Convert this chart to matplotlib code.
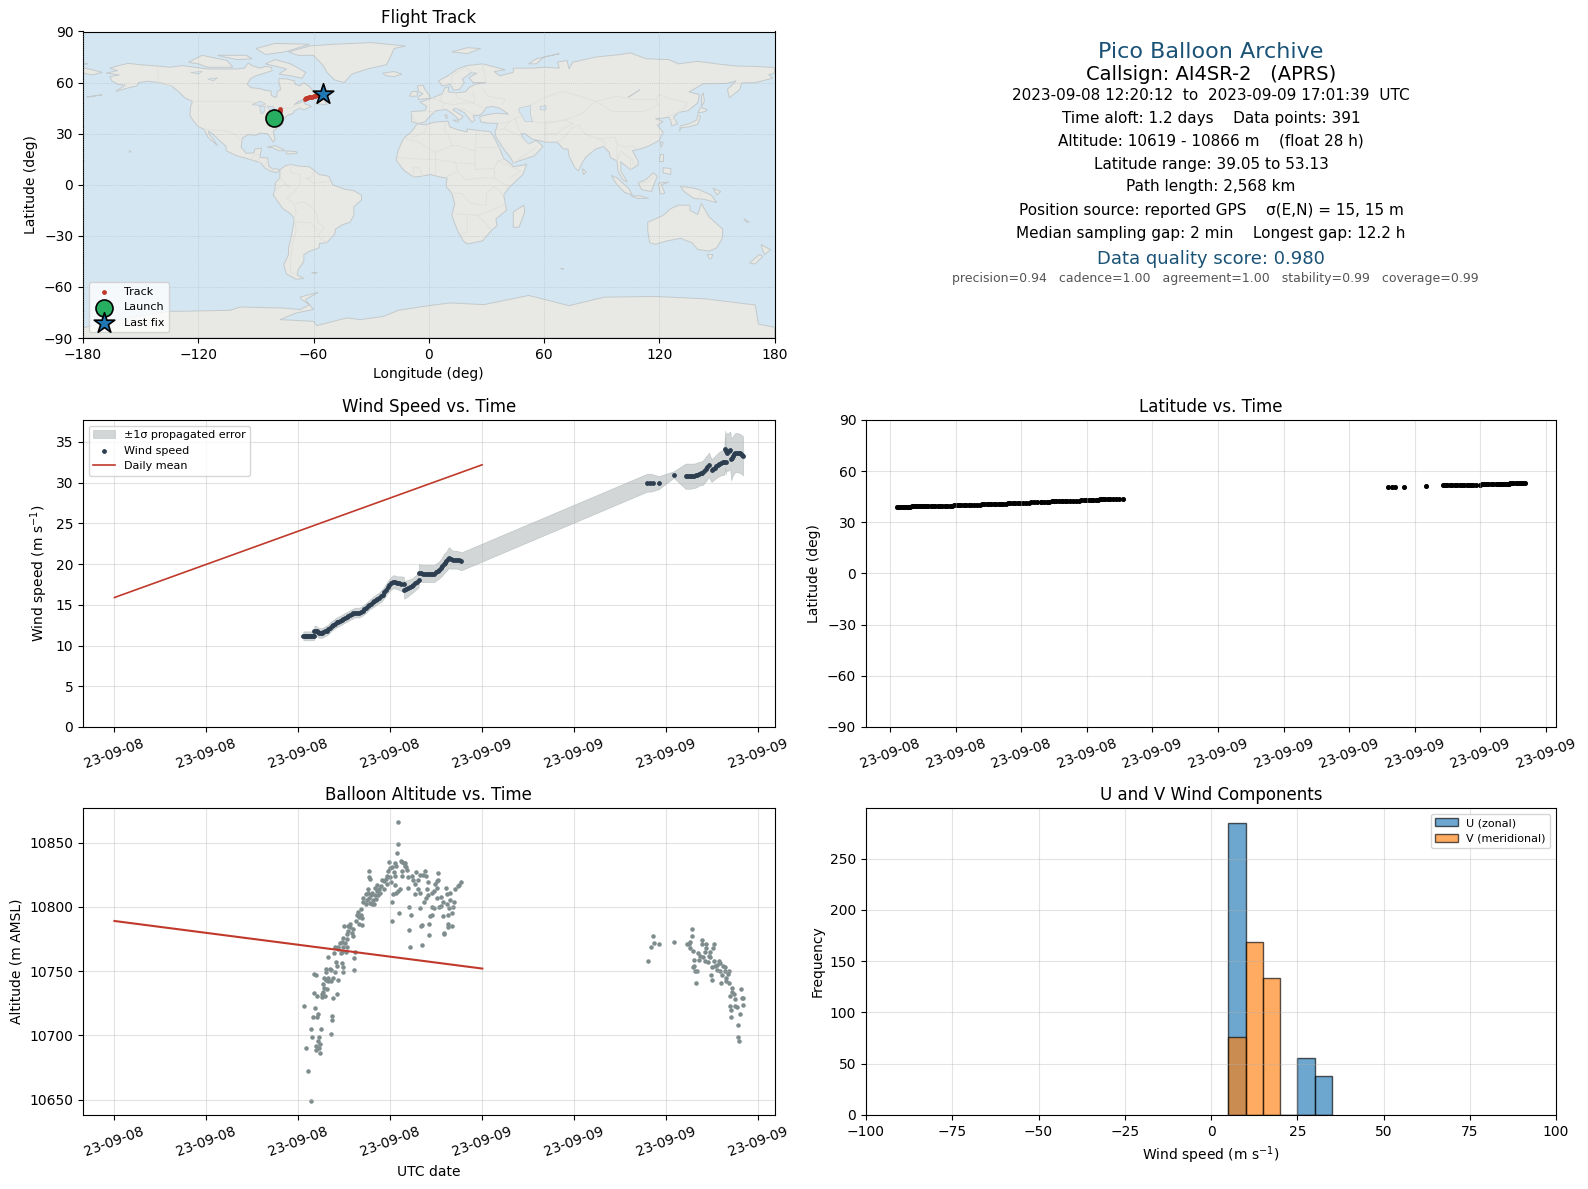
#All imports
import numpy as np
import pandas as pd
import matplotlib
matplotlib.use("Agg")
import matplotlib.pyplot as plt
import matplotlib.dates as mdates
from matplotlib.patches import Polygon

#Hours after 2023-09-08 00:00 UTC, one entry per fix
wind_hours = [12.33, 12.42, 12.5, 12.59, 12.67, 12.76, 12.84, 12.93, 13.02, 13.05,
              13.13, 13.2, 13.28, 13.37, 13.46, 13.54, 13.64, 13.74, 13.85, 13.96,
              14.06, 14.17, 14.28, 14.39, 14.5, 14.61, 14.72, 14.83, 14.94, 15.04,
              15.15, 15.26, 15.37, 15.48, 15.59, 15.7, 15.84, 15.98, 16.09, 16.2,
              16.3, 16.41, 16.52, 16.63, 16.74, 16.85, 16.96, 17.07, 17.17, 17.28,
              17.39, 17.5, 17.61, 17.72, 17.83, 17.93, 18.06, 18.2, 18.33, 18.46,
              18.59, 18.72, 18.89, 18.91, 19.04, 19.17, 19.28, 19.39, 19.5, 19.61,
              19.73, 19.85, 19.87, 19.99, 20.11, 20.24, 20.37, 20.5, 20.63, 20.75,
              20.87, 20.98, 21.09, 21.2, 21.3, 21.4, 21.5, 21.58, 21.67, 21.75,
              21.83, 21.95, 22.07, 22.2, 22.33, 22.49, 22.65,
              34.77, 34.94, 35.12, 35.52, 36.5,
              37.28, 37.39, 37.5, 37.61, 37.72, 37.83, 37.94, 38.05, 38.16, 38.27,
              38.38, 38.48, 38.58, 38.69, 38.8, 38.97, 39.07, 39.17, 39.27, 39.37,
              39.48, 39.59, 39.7, 39.8, 39.85, 39.9, 39.93, 40.0, 40.1, 40.19,
              40.25, 40.3, 40.36, 40.44, 40.52, 40.63, 40.74, 40.82, 40.9, 40.97, 41.03]
wind_speed = [11.2, 11.2, 11.2, 11.2, 11.2, 11.2, 11.2, 11.2, 11.2, 11.85,
              11.85, 11.75, 11.65, 11.55, 11.55, 11.55, 11.65, 11.75, 11.85, 12.0,
              12.2, 12.4, 12.55, 12.7, 12.85, 12.95, 13.05, 13.15, 13.3, 13.4,
              13.5, 13.6, 13.75, 13.85, 13.95, 14.05, 14.05, 14.05, 14.15, 14.3,
              14.45, 14.6, 14.8, 15.0, 15.15, 15.3, 15.45, 15.6, 15.75, 15.85,
              16.05, 16.25, 16.55, 16.85, 17.15, 17.4, 17.65, 17.85, 17.8, 17.7,
              17.65, 17.6, 17.5, 16.85, 16.95, 17.05, 17.2, 17.3, 17.45, 17.65,
              17.85, 18.0, 18.95, 18.9, 18.85, 18.85, 18.85, 18.85, 18.85, 18.85,
              18.85, 19.0, 19.15, 19.3, 19.5, 19.75, 20.05, 20.2, 20.35, 20.6,
              20.8, 20.65, 20.55, 20.55, 20.55, 20.45, 20.35,
              30.0, 30.0, 30.0, 30.0, 31.0,
              30.8, 30.8, 30.8, 30.8, 30.85, 30.85, 30.9, 31.0, 31.1, 31.15,
              31.2, 31.4, 31.65, 31.9, 32.2, 31.5, 31.65, 31.8, 32.0, 32.15,
              32.3, 32.4, 32.5, 32.55, 34.1, 32.6, 33.9, 33.7, 33.85, 34.0,
              32.9, 33.05, 33.25, 33.5, 33.7, 33.7, 33.65, 33.6, 33.5, 33.4, 33.3]
wind_err = [0.55, 0.55, 0.55, 0.55, 0.55, 0.55, 0.55, 0.55, 0.55, 0.6,
            0.6, 0.6, 0.6, 0.6, 0.6, 0.6, 0.6, 0.6, 0.6, 0.6,
            0.6, 0.6, 0.6, 0.6, 0.6, 0.6, 0.6, 0.6, 0.6, 0.6,
            0.6, 0.6, 0.6, 0.6, 0.6, 0.6, 0.6, 0.6, 0.6, 0.6,
            0.6, 0.6, 0.6, 0.6, 0.6, 0.65, 0.65, 0.65, 0.65, 0.65,
            0.7, 0.7, 0.7, 0.7, 0.75, 0.75, 0.8, 0.8, 0.8, 0.8,
            0.85, 0.9, 0.95, 1.1, 1.05, 1.0, 0.95, 0.9, 0.9, 0.9,
            0.9, 0.9, 1.05, 1.05, 1.05, 1.05, 1.05, 1.05, 1.05, 1.05,
            1.05, 1.05, 1.05, 1.05, 1.1, 1.15, 1.2, 1.2, 1.2, 1.25,
            1.3, 1.2, 1.1, 1.1, 1.1, 1.1, 1.1,
            1.1, 1.1, 1.05, 0.8, 0.4,
            1.55, 1.55, 1.55, 1.55, 1.5, 1.5, 1.5, 1.5, 1.45, 1.45,
            1.5, 1.5, 1.5, 1.5, 1.5, 1.4, 1.4, 1.4, 1.45, 1.45,
            1.5, 1.5, 1.55, 1.6, 2.3, 1.6, 2.3, 2.3, 2.3, 2.3,
            2.6, 2.5, 2.4, 2.4, 2.4, 2.4, 2.4, 2.4, 2.4, 2.4, 2.4]
latitude = [39.05, 39.1, 39.1, 39.1, 39.1, 39.1, 39.2, 39.2, 39.3, 39.3,
            39.3, 39.4, 39.4, 39.4, 39.4, 39.4, 39.4, 39.5, 39.5, 39.5,
            39.6, 39.6, 39.6, 39.7, 39.7, 39.8, 39.8, 39.8, 39.9, 39.9,
            39.9, 40.0, 40.0, 40.1, 40.1, 40.2, 40.2, 40.3, 40.4, 40.5,
            40.5, 40.6, 40.6, 40.7, 40.7, 40.7, 40.8, 40.9, 40.9, 41.0,
            41.1, 41.2, 41.2, 41.3, 41.3, 41.4, 41.4, 41.5, 41.6, 41.7,
            41.7, 41.8, 41.9, 41.9, 42.0, 42.1, 42.2, 42.3, 42.3, 42.4,
            42.4, 42.5, 42.5, 42.5, 42.6, 42.6, 42.7, 42.7, 42.8, 42.9,
            43.0, 43.0, 43.1, 43.1, 43.2, 43.3, 43.3, 43.4, 43.5, 43.5,
            43.5, 43.5, 43.5, 43.5, 43.6, 43.6, 43.6,
            50.6, 50.6, 50.6, 51.0, 51.1,
            51.6, 51.6, 51.7, 51.7, 51.7, 51.7, 51.7, 51.8, 51.8, 51.9,
            52.0, 52.0, 52.0, 52.1, 52.1, 52.1, 52.2, 52.2, 52.2, 52.2,
            52.3, 52.3, 52.4, 52.4, 52.5, 52.5, 52.5, 52.6, 52.6, 52.7,
            52.7, 52.7, 52.8, 52.8, 52.9, 52.9, 53.0, 53.0, 53.1, 53.1, 53.13]

alt_hours = [18.52, 18.52, 18.46, 17.93, 18.30, 18.35, 18.67, 18.78, 18.87, 18.98, 18.96, 19.02, 19.07,
             18.09, 17.98, 17.87, 18.24, 18.78, 18.74, 18.30, 16.63, 16.63, 16.70, 17.80, 17.70, 17.98,
             17.61, 17.76, 18.02, 17.43, 18.30, 17.15, 17.39, 17.57, 17.00, 17.26, 17.11, 16.57, 16.83,
             16.52, 17.33, 17.22, 17.00, 16.74, 16.41, 16.24, 16.61, 17.07, 16.89, 16.46, 16.24, 16.67,
             16.39, 16.96, 16.83, 16.09, 15.91, 15.80, 16.09, 15.96, 16.13, 15.74, 15.96, 16.17, 15.37,
             15.26, 15.00, 15.37, 15.59, 15.26, 15.52, 15.20, 15.59, 14.93, 15.15, 14.83, 15.04, 14.72,
             14.39, 14.61, 15.15, 14.93, 14.57, 14.83, 15.09, 14.35, 15.70, 15.65, 13.96, 14.78,
             18.20, 18.48, 18.63, 18.37, 18.13, 18.13, 18.59, 19.24, 19.37, 19.24, 19.30, 20.09, 20.54,
             20.54, 20.04, 20.00, 19.96, 19.17, 19.13, 19.43, 19.67, 19.91, 20.26, 20.15, 20.30, 21.13,
             19.78, 19.50, 19.61, 19.83, 19.61, 19.96, 20.48, 20.91, 21.13, 21.02, 20.37, 21.07, 21.61,
             20.33, 20.48, 20.70, 20.87, 20.22, 20.70, 20.87, 21.17, 21.02, 21.30, 21.46, 21.67, 21.83,
             21.28, 22.11, 21.89, 22.15, 21.67, 21.89, 22.22, 22.39, 22.59, 22.48, 20.70, 20.59, 21.46,
             21.74, 22.04, 21.74, 22.00, 21.78, 21.52, 21.52,
             15.65, 14.43, 14.54, 14.83, 14.93, 14.93, 13.04, 13.13, 13.83, 14.04, 14.11, 13.83, 14.41,
             14.28, 14.61, 13.70, 13.96, 13.78, 13.96, 14.11, 13.63, 13.70, 13.89, 13.63, 13.04, 13.57,
             13.24, 13.52, 13.74, 14.28, 14.54, 12.39, 13.09, 13.30, 12.98, 13.24, 14.17, 14.22, 14.15,
             12.83, 13.50, 12.91, 13.37, 13.30, 13.17, 13.43, 12.52, 13.17, 13.37, 13.43, 12.65, 12.80,
             35.12, 37.71, 37.71, 35.21, 35.52, 34.99, 34.79, 36.51, 37.32, 37.47, 37.58, 37.54, 37.76,
             38.35, 38.31, 38.62, 38.57, 39.12, 39.08, 38.53, 38.86, 38.09, 38.20, 38.42, 38.79, 38.86,
             38.15, 37.82, 38.53, 38.75, 39.12, 39.47, 39.52, 39.30, 39.19, 39.01, 39.69, 39.82, 39.34,
             39.52, 39.85, 40.07, 40.02, 39.63, 37.76, 37.82, 37.87, 37.98, 38.95, 39.91, 37.96, 39.01,
             39.54, 39.87, 40.07, 40.29, 40.86, 40.29, 40.44, 40.13, 40.95, 41.01, 40.51, 40.13, 40.48,
             40.62, 41.00, 40.20, 40.79, 40.20, 40.66, 40.66, 40.73]
alt_m = [10866, 10849, 10842, 10835, 10834, 10832, 10836, 10835, 10834, 10834, 10832, 10831, 10829,
         10831, 10830, 10828, 10827, 10828, 10824, 10824, 10828, 10823, 10822, 10824, 10822, 10823,
         10820, 10818, 10819, 10821, 10817, 10817, 10816, 10814, 10815, 10814, 10812, 10814, 10811,
         10811, 10811, 10809, 10809, 10809, 10810, 10807, 10807, 10806, 10805, 10805, 10804, 10803,
         10802, 10802, 10802, 10798, 10796, 10794, 10794, 10792, 10791, 10789, 10787, 10786, 10787,
         10785, 10785, 10784, 10783, 10781, 10780, 10779, 10777, 10776, 10775, 10773, 10772, 10772,
         10769, 10769, 10769, 10769, 10767, 10765, 10765, 10764, 10765, 10760, 10761, 10764,
         10810, 10812, 10814, 10811, 10804, 10789, 10795, 10800, 10794, 10782, 10769, 10770, 10778,
         10787, 10786, 10785, 10799, 10815, 10823, 10824, 10827, 10825, 10828, 10825, 10824, 10826,
         10821, 10821, 10818, 10814, 10810, 10811, 10819, 10818, 10821, 10820, 10814, 10815, 10815,
         10807, 10809, 10811, 10812, 10804, 10800, 10799, 10800, 10807, 10808, 10804, 10802, 10799,
         10801, 10800, 10805, 10804, 10810, 10811, 10814, 10816, 10819, 10817, 10794, 10793, 10793,
         10794, 10795, 10787, 10785, 10784, 10780, 10779,
         10751, 10757, 10754, 10756, 10753, 10749, 10748, 10747, 10752, 10752, 10751, 10749, 10749,
         10745, 10743, 10745, 10745, 10743, 10742, 10742, 10740, 10737, 10736, 10734, 10733, 10732,
         10731, 10730, 10731, 10729, 10732, 10723, 10721, 10717, 10714, 10714, 10715, 10712, 10701,
         10705, 10705, 10699, 10699, 10696, 10692, 10693, 10690, 10689, 10690, 10686, 10672, 10649,
         10777, 10783, 10777, 10772, 10771, 10769, 10758, 10773, 10771, 10771, 10773, 10768, 10766,
         10774, 10771, 10771, 10768, 10771, 10768, 10765, 10765, 10764, 10762, 10761, 10762, 10761,
         10759, 10759, 10758, 10757, 10758, 10758, 10756, 10755, 10754, 10753, 10754, 10753, 10751,
         10750, 10750, 10750, 10748, 10747, 10753, 10754, 10750, 10750, 10747, 10745, 10741, 10743,
         10741, 10742, 10741, 10737, 10736, 10734, 10732, 10731, 10729, 10729, 10728, 10723, 10723,
         10722, 10724, 10720, 10717, 10714, 10708, 10699, 10696]

#Daily means
daily_dates = ["2023-09-08", "2023-09-09"]
daily_wind = [15.9, 32.2]
daily_alt = [10789, 10752]

#Histogram counts per 5 m/s bin
hist_edges = [5, 10, 15, 20, 25, 30, 35]
u_counts = [285, 0, 0, 0, 56, 38]
v_counts = [76, 169, 134, 0, 0, 0]

#Ground track
track_lon = [-80.8, -80.2, -79.8, -79.3, -78.9, -78.5, -78.2, -77.9, -77.7, -77.5,
             -64.5, -64, -63.5, -62.5, -62, -61, -60, -59, -58, -57, -56, -55]
track_lat = [39.05, 39.6, 40.1, 40.7, 41.2, 41.8, 42.4, 43, 43.5, 44.3,
             50.6, 51, 51.1, 51.6, 51.7, 51.8, 52, 52.2, 52.5, 52.7, 53, 53.13]
launch = (-80.8, 39.05)
last_fix = (-55, 53.13)

#Land outlines, lon/lat
north_america = [(-168,65.6),(-164,66.5),(-162,67),(-166,68.5),(-163,69.5),(-156.5,71.3),(-150,70.5),(-141,69.7),
    (-135,69),(-128,70),(-125,69.5),(-115,68),(-108,68),(-100,68),(-96,68.5),(-94,71.5),(-92,70),(-88,68.5),(-85,69.5),
    (-82,69),(-81.5,67),(-87,65),(-90,64),(-93,62),(-94.5,59),(-92.5,57),(-88,56.5),(-85,55.5),(-82,55),(-82,52.5),
    (-80,51.3),(-79,52),(-79,54.5),(-77,56),(-77.5,58),(-78,60),(-78,62.3),(-74,62.2),(-70,61),(-69.5,59),(-67,58.2),
    (-65,60),(-62,57.5),(-60,55),(-56,52.5),(-60,50.2),(-65,50.2),(-68,49),(-70,47),(-65,49),(-64.5,47.5),(-61,46),
    (-65,44),(-66,44.5),(-67,45),(-70,43.5),(-70.5,42),(-74,40.5),(-75.5,38),(-76,35.5),(-78,34),(-81,31.5),(-80,26.5),
    (-81,25),(-82.7,28),(-84,30),(-88,30.3),(-90,29),(-94,29.5),(-97,27.5),(-97.7,22),(-95,18.5),(-91,18.7),(-90.5,21),
    (-87,21.5),(-88,16),(-84,15.8),(-83.3,11),(-81,9),(-79.5,9.5),(-77.5,8.6),(-78.5,7.5),(-80,7.3),(-83,8.3),(-85.5,10),
    (-87.5,13),(-92,14.5),(-96,15.8),(-100,17),(-105.5,20),(-105.5,22.5),(-109,26),(-112.5,30),(-114.7,31.5),(-114.5,30),
    (-112,26.5),(-110,23),(-112,25),(-115,28),(-117,32.5),(-120.5,34.5),(-122.5,37.5),(-124.3,40.5),(-124,46),(-123,49),
    (-127,51),(-130,54.5),(-134,58),(-140,60),(-146,60.8),(-151,60),(-152,58),(-156,57),(-163,54.8),(-158,58.5),(-162,59),
    (-165,61),(-166,63.5),(-161,64.5)]
south_america = [(-77.5,8.6),(-75,11),(-72,12),(-68,11),(-62,10.5),(-57,6),(-52,5),(-50,0),(-44,-2.5),(-39,-3.5),(-35,-6),
    (-35,-9),(-39,-13),(-39,-18),(-41,-22),(-45,-23.5),(-48.5,-26),(-49,-29),(-53,-34),(-57,-34.5),(-57,-37),(-62,-39),
    (-65,-41),(-65,-45),(-68,-50),(-68.5,-53),(-65,-55),(-69,-55.5),(-74,-52.5),(-75.5,-47),(-73,-41),(-73,-37),(-71.5,-30),
    (-70,-20),(-72,-17),(-76,-14),(-81,-6),(-80,-2.5),(-80,1),(-77.5,4),(-77.5,7)]
africa = [(-6,35.8),(-2,35.2),(3,36.8),(10,37.3),(11,34),(15,32.3),(20,31),(20,32.8),(25,32),(32,31.2),(34,28),(37,21),
    (39,15.5),(43,12),(44,10.5),(51,12),(49,6),(42,-1.5),(39,-6),(40.5,-15),(35,-20),(35.5,-24),(32.5,-27),(28,-33),
    (20,-34.8),(18,-33),(15,-27),(12,-18),(13.5,-11),(12,-5),(9,-1),(9.5,4),(6,4.5),(1,6),(-4,5),(-8,4.5),(-13,8.5),
    (-17,14.5),(-16,20),(-13,27.5),(-9.5,30.5)]
eurasia = [(-9,37),(-9,43),(-2,43.5),(-1,46),(-4.5,48.5),(2,51),(7,53.5),(8.5,57),(10.5,57.5),(10,54.5),(14,54),(19,54.5),
    (21,57),(24,59),(30,60),(23,60),(21,63),(25,65.5),(22,65.8),(17.5,62),(18.5,60),(16,56),(13,55.5),(11,59),(7,58),(5,61),
    (10,64),(15,68),(20,70),(28,71),(40,67.5),(34,66.5),(37,64),(44,66),(44,68.5),(54,68.5),(60,69),(68,68.5),(67,72),(72,73),
    (73,68),(75,72),(81,73.5),(87,75),(100,76.5),(105,77.5),(113,74),(125,73.5),(130,71),(140,72.5),(150,71),(160,69.7),
    (170,69.5),(178,69),(180,68.7),(180,65.5),(177,64.7),(179,62.5),(170,60),(163,59.8),(162,56),(156.5,51),(155.5,56),
    (160,61),(155,59.5),(143,59.3),(135.5,54.5),(141,53),(140,48),(135,43.5),(130,42.5),(127.5,39.7),(129.5,36),(126.5,34.5),
    (126,37.5),(125,39.7),(121,39),(118,39),(122,37),(119,35),(122,31),(120,26),(114,22.5),(110,21),(106,20),(109,14),
    (109,11.5),(105,8.8),(100,13.5),(100,8),(103.5,1.5),(101,3),(98.5,8),(98,14),(94.5,16),(94,19),(91,22.5),(87,21),
    (82,16.5),(80,13),(78,8.2),(76,10),(73,17),(72.5,21),(70,21),(67,25),(61,25),(57,26),(54,26.7),(50,30),(48,30),(50,26),
    (52,24),(56,26),(59.5,22.5),(55,17),(44,12.8),(42.5,16),(39,21),(35,28),(34.5,31),(36,36),(30,36.3),(27,37),(26.5,40),
    (30,41),(35,42),(41.5,41.5),(37,45),(33,46),(30,45.5),(28,42),(26,40.7),(23,40.5),(24,38),(22.5,36.7),(19.5,41),(19,42),
    (14,45),(12.5,44),(18,40),(16,38),(12,42),(9,44.3),(3.5,43.3),(0,39.5),(-2,36.8),(-5.5,36)]
chukotka = [(-180,68.7),(-175,67.5),(-170,66),(-175,64.5),(-180,65.5)]
greenland = [(-73,78),(-68,76),(-60,76),(-55,70),(-53,66),(-49,61.5),(-44,60),(-40,65),(-32,68),(-22,70.5),(-20,75),(-18,80),
    (-12,81.5),(-30,83.5),(-50,82.5),(-62,81.5)]
antarctica = [(-180,-84),(-165,-80),(-150,-77),(-135,-74.3),(-128,-74.3),(-103.5,-73.7),(-98,-71.8),(-76,-72.4),(-67,-73.3),
    (-62,-70.4),(-66,-67.5),(-67,-66),(-57.4,-63.1),(-64.3,-67.5),(-60,-73.3),(-69,-75.3),(-77.4,-79.2),(-60,-80.2),
    (-58.3,-82.7),(-49.6,-80.2),(-42.6,-78.2),(-35.6,-79.2),(-23.5,-77.3),(-15.7,-73.7),(0,-71),(11,-69.4),(28.7,-70.4),
    (52,-65),(73,-71),(91.5,-66),(118,-65.6),(144,-67),(170,-70.6),(171.6,-81.8),(180,-83.7),(180,-90),(-180,-90)]
australia = [(114,-22),(122,-18),(126,-14),(130,-12),(136,-12),(136,-15),(140,-17.5),(142,-11),(146,-19),(153,-26),(153,-31),
    (150,-37),(146,-39),(140,-38),(137,-34),(131,-31.5),(124,-33),(118,-35),(115,-34),(114,-27)]
islands = [
    [(-125,72),(-118,76),(-105,73),(-102,69),(-115,69),(-120,71)],
    [(-80,73.5),(-72,71),(-64,66),(-66,62.5),(-72,64),(-78,65),(-74,68),(-85,71)],
    [(-90,80),(-80,83),(-62,82.5),(-75,78),(-85,76.5)],
    [(-110,76),(-95,76),(-92,74),(-100,73.5)],
    [(-59,47.5),(-53,47),(-55.5,51.5)],
    [(-84,22),(-80,23),(-74.5,20),(-78,20),(-82,22)],
    [(-74,19.8),(-69,19.5),(-68.5,18.5),(-74,18)],
    [(-24,65.5),(-18,66.5),(-14,65),(-18,63.5),(-22,64)],
    [(-5.5,50),(1,51),(0,53),(-2,56),(-3,58.5),(-6,58),(-5,54.5),(-3,53.5),(-5,52)],
    [(-10,52),(-6,52),(-6,55),(-9,54.5)],
    [(12,78),(20,80.5),(27,80),(20,77)],
    [(52,71),(56,74),(68,77),(60,75),(56,71)],
    [(9,39),(9.7,39),(9.5,41),(8.4,41)],
    [(12.5,38),(15.5,38),(15,36.7)],
    [(44,-16),(49.5,-12),(50,-16),(47,-25),(44,-25)],
    [(80,9.5),(82,7.5),(80.5,6)],
    [(130.5,31.5),(131.5,33.5),(135.5,34),(140,35.5),(141.5,40),(140,41),(139.5,38),(136,36),(131,34.5)],
    [(140,42),(144,43),(145,44),(141.5,45.5)],
    [(142,46),(143.5,49),(143,54),(142,52)],
    [(95,5.5),(98,4),(104,-2),(106,-6),(102,-4.5),(98,0)],
    [(105,-6.5),(110,-6.5),(114.5,-8),(109,-8)],
    [(109,1),(113,3),(117,7),(119,5),(117.5,1),(116,-4),(111,-3)],
    [(119.5,1),(125,1.5),(121,0),(123,-5),(120.5,-5.5)],
    [(131,-1),(138,-2),(141,-3),(147,-6),(150,-10.5),(143,-8.5),(138,-8),(133,-4)],
    [(120.5,18),(122,18),(122,14),(120,14)],
    [(122,10),(126,9.5),(126,6),(122,7)],
    [(120.5,25),(122,25),(121,22)],
    [(145,-41),(148,-41),(147,-43.5),(146,-43.5)],
    [(173,-35),(176,-37),(178,-38),(175,-41),(174,-39)],
    [(172,-41),(174,-42),(170,-46.5),(167,-46),(170,-43)],
    [(-175,52),(-170,52.8),(-178,51.5)],
    [(-156,20),(-155,19.5),(-155.7,19)],
    [(-61,-51.5),(-58,-51.5),(-59,-52.3)],
    [(68.5,-49),(70,-49),(70,-49.6)],
    [(164,-20),(167,-22),(165.5,-22)],
    [(-180,71.2),(-177.5,71),(-180,70.8)],
    [(148,-2),(152,-4),(150,-6)],
]
#Water on top of land
lakes = [
    [(-92,47),(-88,49),(-85,47.5),(-87,46.5)],
    [(-88,46),(-85,46),(-86,42),(-87.5,42)],
    [(-84,46),(-81,46),(-80,44.5),(-82.5,43.5)],
    [(-83,42),(-79,43),(-79,42.7),(-82,41.5)],
    [(-79.5,43.5),(-76,44),(-76.5,43.3)],
    [(47,45),(53,46.5),(53,41),(54,37),(50,37.3),(49,40),(47,43)],
    [(58,46),(61,46.5),(61,44),(58,44)],
    [(103.7,51.5),(105,52),(110,56),(109,55)],
    [(-115,62),(-110,62.8),(-112,61)],
    [(-124,66),(-118,66.5),(-120,65)],
]
#Country borders, just faint lines
borders = [
    [(-123,49),(-95,49),(-89,48),(-83,46),(-82.5,42),(-79,43),(-75,45),(-71,45),(-69,47.3),(-67,45)],
    [(-141,69.7),(-141,60),(-134,58)],
    [(-117,32.5),(-106,31.8),(-101,29.5),(-97.5,26)],
    [(-92,14.5),(-91,18),(-88.5,18)],[(-88,16),(-89,14),(-87.5,13)],[(-83.5,15),(-85,12),(-85.5,11)],
    [(-72,12),(-72,7),(-67,6),(-67,1),(-70,-4),(-74,-8),(-70,-11),(-69,-16),(-70,-20)],
    [(-60,8),(-61,4),(-64,4),(-60,1),(-52,2)],[(-80,-3),(-75,0),(-72,-2),(-77.5,4)],
    [(-69,-11),(-65,-10),(-60,-14),(-58,-18),(-58,-22),(-54,-25),(-58,-30),(-53,-34)],
    [(-69,-22),(-62,-22),(-58,-27)],[(-70,-20),(-69,-27),(-71,-35),(-72,-45),(-72,-52),(-68.5,-52)],
    [(-9,27.5),(-2,31),(-1,35)],[(-13,27.5),(-5,25),(3,19),(12,23),(15,23),(24,20),(25,32)],
    [(9,37),(8,32),(10,30),(12,23)],[(25,22),(37,22)],[(24,20),(24,9),(34,9.5),(36,14),(39,15)],
    [(-16,16),(-5,15),(3,15),(14,13),(15,8),(9,4.5)],[(3,19),(3,7)],[(-8,4.5),(-8,10),(-5,10),(-3,5)],
    [(14,13),(24,12)],[(15,8),(19,3),(27,4),(34,4),(42,-1.5)],[(34,9.5),(34,4)],[(36,14),(42,11),(48,8),(42,4)],
    [(12,-5),(17,-5),(22,-11),(30,-12),(30,-5),(34,-1),(39,-6)],[(13.5,-17),(25,-18),(33,-15),(40.5,-11)],
    [(20,-18),(20,-28),(17,-29)],[(25,-18),(29,-22),(32,-26)],
    [(-9,42),(-7,37)],[(-2,43.5),(3,42.5)],[(2,51),(6,49),(8,48),(7,44)],[(7,53.5),(6,50),(8,48)],
    [(8,48),(13,47),(17,48),(23,48),(28,45.5)],[(14,54),(15,51),(19,49.5),(23,48)],[(23,54.5),(24,50),(23,48)],
    [(28,56),(31,52),(40,50),(38,47)],[(28,70),(30,60)],[(23,66),(19,69),(12,64),(12,59)],
    [(14,45),(19,44),(22,42),(26,41)],[(37,36),(42,37),(45,39)],[(48,40),(45,39),(46,35),(48,30)],
    [(36,32),(39,33),(42,37)],[(39,33),(47,29),(52,24)],[(44,12.8),(52,19),(56,22)],
    [(61,25),(61,30),(61,37),(66,37),(71,38),(75,36)],[(61,30),(67,30),(70,33),(75,36)],[(67,25),(71,28),(74,33),(78,35)],
    [(54,37),(61,36),(66,37),(74,39),(80,42),(87,49)],[(50,45),(60,51),(70,55),(87,49),(98,52),(107,50),(118,50),(120,53),(127,50),(135,48),(131,43)],
    [(87,49),(96,43),(112,43),(120,47),(118,50)],
    [(78,35),(81,30),(88,27),(97,28),(98,24),(102,22),(106,23),(108,21.5)],[(88,27),(92,25),(91,22.5)],
    [(98,24),(98,14),(100,20),(102,18),(105,15),(105,8.8)],[(102,18),(106,15),(107,11)],
    [(124,40),(130,42.5)],[(126,38),(128.5,38.5)],[(141,-3),(141,-9)],[(117,4.5),(114,1.5),(110,1)],
]

#Text block
info_lines = ["2023-09-08 12:20:12  to  2023-09-09 17:01:39  UTC",
              "Time aloft: 1.2 days    Data points: 391",
              "Altitude: 10619 - 10866 m    (float 28 h)",
              "Latitude range: 39.05 to 53.13",
              "Path length: 2,568 km",
              "Position source: reported GPS    σ(E,N) = 15, 15 m",
              "Median sampling gap: 2 min    Longest gap: 12.2 h"]
info_y = [95.5, 118.5, 141.5, 164.5, 187, 210.5, 233.5]

W, H = 1588, 1189

def px_axes(fig, left, top, right, bottom):
    '''Make axes from pixel edges, top of the image is 0'''
    return fig.add_axes([left / W, 1 - bottom / H, (right - left) / W, (bottom - top) / H])

def to_times(hours):
    '''Turn hours after the start date into timestamps'''
    return pd.Timestamp("2023-09-08") + pd.to_timedelta(hours, unit="h")

def date_axis(ax, locator):
    ax.xaxis.set_major_locator(locator)
    ax.xaxis.set_major_formatter(mdates.DateFormatter("%y-%m-%d"))
    ax.tick_params(axis="x", rotation=20)

fig = plt.figure(figsize=(W / 100, H / 100), dpi=100)
t_wind = to_times(np.array(wind_hours))
t_alt = to_times(np.array(alt_hours))
t_daily = pd.to_datetime(daily_dates)
every6 = mdates.HourLocator(byhour=[0, 6, 12, 18])

#Map
ax = px_axes(fig, 83, 31.5, 774.5, 338)
ax.set_facecolor("#d4e6f1")
for shape in [north_america, south_america, africa, eurasia, chukotka, greenland, antarctica, australia] + islands:
    ax.add_patch(Polygon(shape, closed=True, facecolor="#e8e8e4", edgecolor="#c4cacc", linewidth=0.7, zorder=1))
for shape in lakes:
    ax.add_patch(Polygon(shape, closed=True, facecolor="#d4e6f1", edgecolor="#c4cacc", linewidth=0.5, zorder=1.2))
for line in borders:
    ax.plot([p[0] for p in line], [p[1] for p in line], color="#dfe0dc", linewidth=0.6, zorder=1.1)
ax.grid(True, color="#9aa5ab", linewidth=0.5, linestyle=":", alpha=0.6, zorder=2)
ax.set_axisbelow(False)
ax.scatter(track_lon, track_lat, s=6, color="#c0392b", label="Track", zorder=3)
ax.scatter(launch[0], launch[1], s=150, color="#27ae60", edgecolor="black", linewidth=1.2, label="Launch", zorder=4)
ax.scatter(last_fix[0], last_fix[1], s=240, marker="*", color="#1f77b4", edgecolor="black", linewidth=1.2, label="Last fix", zorder=5)
ax.set_xlim(-180, 180)
ax.set_ylim(-90, 90)
ax.set_xticks(np.arange(-180, 181, 60))
ax.set_yticks(np.arange(-90, 91, 30))
ax.set_xlabel("Longitude (deg)")
ax.set_ylabel("Latitude (deg)")
ax.set_title("Flight Track", fontsize=12)
ax.legend(loc="lower left", fontsize=8)

#Summary text
fig.text(1211 / W, 1 - 51.5 / H, "Pico Balloon Archive", fontsize=16, color="#1a5276", ha="center", va="center")
fig.text(1211 / W, 1 - 74.5 / H, "Callsign: AI4SR-2   (APRS)", fontsize=14, ha="center", va="center")
for line, y in zip(info_lines, info_y):
    fig.text(1211 / W, 1 - y / H, line, fontsize=11, ha="center", va="center")
fig.text(1211 / W, 1 - 258.5 / H, "Data quality score: 0.980", fontsize=13, color="#1a5276", ha="center", va="center")
fig.text(1215 / W, 1 - 279 / H, "precision=0.94   cadence=1.00   agreement=1.00   stability=0.99   coverage=0.99",
         fontsize=9, color="#555555", ha="center", va="center")

#Wind speed
ax = px_axes(fig, 83, 420, 774.5, 727)
speed = np.array(wind_speed)
err = np.array(wind_err)
ax.fill_between(t_wind, speed - err, speed + err, color="#7f8c8d", alpha=0.35, linewidth=0.5, label="±1σ propagated error")
ax.scatter(t_wind, speed, s=6, color="#2c3e50", label="Wind speed", zorder=3)
ax.plot(t_daily, daily_wind, color="#c0392b", linewidth=1.2, label="Daily mean")
ax.set_ylim(0, 37.7)
ax.set_ylabel("Wind speed (m s$^{-1}$)")
ax.set_title("Wind Speed vs. Time", fontsize=12)
ax.grid(True, alpha=0.35)
date_axis(ax, every6)
ax.legend(loc="upper left", fontsize=8)

#Latitude
ax = px_axes(fig, 866, 420, 1556, 727)
ax.scatter(t_wind, latitude, s=7, color="black")
ax.set_ylim(-90, 90)
ax.set_yticks(np.arange(-90, 91, 30))
ax.set_ylabel("Latitude (deg)")
ax.set_title("Latitude vs. Time", fontsize=12)
ax.grid(True, alpha=0.35)
date_axis(ax, mdates.HourLocator(byhour=range(0, 24, 3)))

#Altitude
ax = px_axes(fig, 83, 808, 774.5, 1115)
ax.scatter(t_alt, alt_m, s=5, color="#7f8c8d")
ax.plot(t_daily, daily_alt, color="#c0392b", linewidth=1.5)
ax.set_ylabel("Altitude (m AMSL)")
ax.set_xlabel("UTC date")
ax.set_title("Balloon Altitude vs. Time", fontsize=12)
ax.grid(True, alpha=0.35)
date_axis(ax, every6)

#Histogram
ax = px_axes(fig, 866, 808, 1556, 1115)
centers = hist_edges[:-1]
ax.hist(centers, bins=hist_edges, weights=u_counts, alpha=0.65, edgecolor="black", color="tab:blue", label="U (zonal)")
ax.hist(centers, bins=hist_edges, weights=v_counts, alpha=0.65, edgecolor="black", color="tab:orange", label="V (meridional)")
ax.set_xlim(-100, 100)
ax.set_xlabel("Wind speed (m s$^{-1}$)")
ax.set_ylabel("Frequency")
ax.set_title("U and V Wind Components", fontsize=12)
ax.grid(True, alpha=0.35)
ax.legend(loc="upper right", fontsize=8)

plt.savefig("out.png", dpi=100)
